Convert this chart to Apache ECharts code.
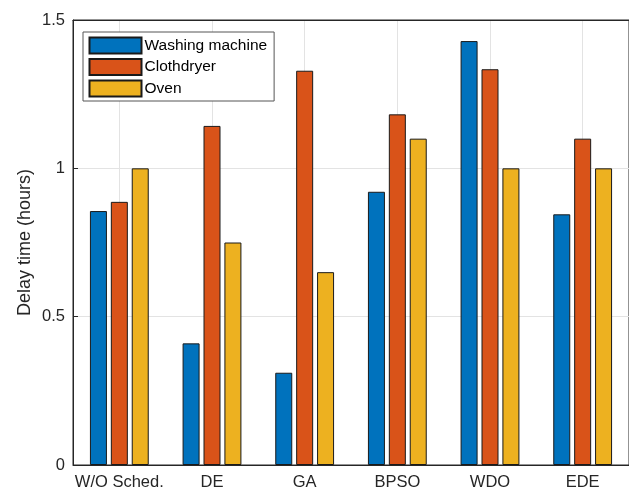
<!DOCTYPE html>
<html>
<head>
<meta charset="utf-8">
<script src="https://cdn.jsdelivr.net/npm/echarts@6/dist/echarts.min.js"></script>
<style>
  html, body { margin: 0; padding: 0; background: #fff; }
  #chart { width: 629px; height: 493px; }
</style>
</head>
<body>
<div id="chart"></div>
<script>
// Delay time per scheduling method, in hours
const categories = ['W/O Sched.', 'DE', 'GA', 'BPSO', 'WDO', 'EDE'];
const washingMachine = [0.856, 0.41, 0.311, 0.921, 1.429, 0.845];
const clothdryer = [0.887, 1.143, 1.329, 1.182, 1.334, 1.10];
const oven = [1.0, 0.75, 0.65, 1.10, 1.0, 1.0];
const yTicks = [0, 0.5, 1, 1.5];

const textColor = '#262626';
const axisColor = '#262626';
const gridColor = '#e3e3e3';
const fontFamily = '"Liberation Sans", Arial, Helvetica, sans-serif';

function barSeries(name, data, color) {
  return {
    name: name,
    type: 'bar',
    data: data,
    barWidth: 17,
    barGap: '23%',
    itemStyle: { color: color, borderColor: '#1a1a1a', borderWidth: 1 }
  };
}

const chart = echarts.init(document.getElementById('chart'), null, { renderer: 'canvas' });
chart.setOption({
  animation: false,
  backgroundColor: '#ffffff',
  textStyle: { fontFamily: fontFamily, color: textColor },
  grid: { left: 73, top: 20, width: 566, height: 445, show: true, borderColor: axisColor, borderWidth: 1, backgroundColor: 'transparent' },
  legend: {
    orient: 'vertical',
    left: 83,
    top: 32,
    padding: [4.5, 7, 3.5, 5.5],
    icon: 'rect',
    itemWidth: 52,
    itemHeight: 16,
    itemGap: 3.5,
    backgroundColor: '#ffffff',
    borderColor: '#555555',
    borderWidth: 1,
    textStyle: { fontSize: 15.5, lineHeight: 16, color: '#000', fontFamily: fontFamily, padding: [0, 0, 0, -2] },
    data: ['Washing machine', 'Clothdryer', 'Oven']
  },
  xAxis: [{
    type: 'category',
    data: categories,
    position: 'bottom',
    axisLine: { lineStyle: { color: axisColor, width: 1 } },
    axisTick: { inside: true, length: 5, alignWithLabel: true, lineStyle: { color: axisColor } },
    axisLabel: { interval: 0, fontSize: 16.5, color: textColor, margin: 9, fontFamily: fontFamily },
    splitLine: { show: true, alignWithLabel: true, lineStyle: { color: gridColor, width: 1 } }
  }, {
    type: 'category',
    data: categories,
    position: 'top',
    axisLine: { lineStyle: { color: axisColor, width: 1 } },
    axisTick: { inside: true, length: 5, alignWithLabel: true, lineStyle: { color: axisColor } },
    axisLabel: { show: false },
    splitLine: { show: false }
  }],
  yAxis: {
    type: 'value',
    min: 0,
    max: 1.5,
    interval: 0.5,
    name: 'Delay time (hours)',
    nameLocation: 'middle',
    nameGap: 39,
    nameMoveOverlap: false,
    nameTextStyle: { fontSize: 18, color: textColor, fontFamily: fontFamily },
    axisLine: { show: true, lineStyle: { color: axisColor, width: 1 } },
    axisTick: { show: true, inside: true, length: 5, lineStyle: { color: axisColor } },
    axisLabel: {
      fontSize: 16.5, color: textColor, margin: 8, fontFamily: fontFamily,
      formatter: v => (yTicks.indexOf(v) >= 0 ? String(v) : '')
    },
    splitLine: { show: true, lineStyle: { color: gridColor, width: 1 } }
  },
  series: [
    barSeries('Washing machine', washingMachine, '#0072BD'),
    barSeries('Clothdryer', clothdryer, '#D95319'),
    barSeries('Oven', oven, '#EDB120')
  ]
});
</script>
</body>
</html>
